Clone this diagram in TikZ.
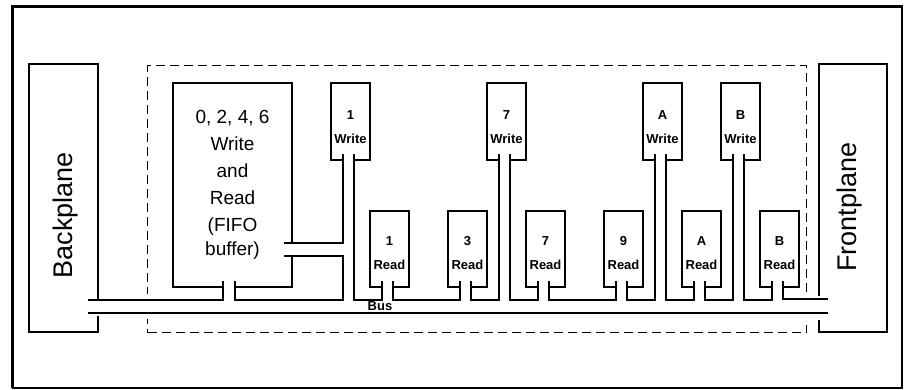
\documentclass[tikz,border=0pt]{standalone}
\usepackage{fontspec}
\setmainfont{Liberation Sans}
\usetikzlibrary{calc}

\begin{document}
\begin{tikzpicture}[x=1pt, y=-1pt,
    wire/.style={line width=1.3pt},
    modbox/.style={draw, line width=1.3pt, anchor=north west, inner sep=0pt, outer sep=0pt,
        minimum width=39pt, align=center, font=\bfseries\fontsize{13}{24}\selectfont},
    wrbox/.style={modbox, minimum height=77pt, text height=43.3pt},
    rdbox/.style={modbox, minimum height=76pt, text height=40.3pt},
    plane/.style={draw, line width=1.3pt, anchor=north west, inner sep=0pt, outer sep=0pt,
        minimum width=69pt, minimum height=268pt},
    planetext/.style={rotate=90, inner sep=0pt, font=\fontsize{27}{30}\selectfont},
    eraser/.style={fill=white}]
    \useasboundingbox (0,0) rectangle (904,389);
    % outer frame
    \draw[line width=1.2pt] (12.5,6) rectangle (902,388);
    \draw[line width=3pt] (12.5,388) -- (12.5,6) -- (902,6);

    % card outline and the two planes
    \node[draw, line width=1.3pt, dash pattern=on 9pt off 5pt, anchor=north west,
        inner sep=0pt, minimum width=659pt, minimum height=267pt] (card) at (147,65) {};
    \node[plane] (bp) at (29,64) {};
    \node[plane, minimum width=68pt] (fp) at (819,64) {};

    % FIFO buffer
    \node[draw, line width=1.3pt, anchor=north west, inner sep=0pt, outer sep=0pt,
        minimum width=119pt, minimum height=204pt, align=center,
        font=\fontsize{19}{27}\selectfont] (fifo) at (173,83)
        {0, 2, 4, 6\\Write\\and\\Read\\(FIFO\\[-3pt]buffer)};

    % write and read modules
    \node[wrbox] (w1) at (331,83) {1\\Write};
    \node[wrbox] (w7) at (487,83) {7\\Write};
    \node[wrbox] (wa) at (643,83) {A\\Write};
    \node[wrbox] (wb) at (721,83) {B\\Write};
    \foreach \n/\x/\t in {r1/370/1, r3/448/3, r7/526/7, r9/604/9, ra/682/A, rb/760/B}
        \node[rdbox] (\n) at (\x,211) {\t\\Read};

    % openings for the stubs
    \foreach \n in {w1,w7,wa,wb,r1,r3,r7,r9,ra,rb} {
        \fill[eraser] ($(\n.south west)+(12.7,-1.6)$) rectangle ($(\n.south west)+(22.3,1.6)$);
        \coordinate (\n-l) at ($(\n.south west)+(12,-6)$);
        \coordinate (\n-r) at ($(\n.south west)+(23,-6)$);
    }
    \fill[eraser] ($(fifo.south west)+(50.7,-1.6)$) rectangle ($(fifo.south west)+(61.3,1.6)$);
    \fill[eraser] ($(fifo.north east)+(-1.6,160.7)$) rectangle ($(fifo.north east)+(1.6,172.3)$);
    \coordinate (f-l) at ($(fifo.south west)+(50,-6)$);
    \coordinate (f-r) at ($(fifo.south west)+(62,-6)$);
    \coordinate (f-a) at ($(fifo.north east)+(-8,160)$);
    \coordinate (f-b) at ($(fifo.north east)+(-8,173)$);

    % gaps where the bus passes
    \fill[eraser] (96,299.5) rectangle (100,315.5);
    \fill[eraser] (817,296) rectangle (821,320);
    \fill[eraser] (145,294) rectangle (149,319);
    \fill[eraser] (804,294) rectangle (808,320);

    % bus
    \coordinate (bus-w) at (88,300);
    \coordinate (bus-e) at (828,299);
    \coordinate (bus-lw) at (88,313);
    \coordinate (bus-le) at (828,313);
    \draw[wire] (bus-lw) -- (bus-le);
    \draw[wire] (bus-w) -| (f-l);
    \draw[wire] (f-r) |- (w1-l |- bus-w) -- (w1-l |- f-b) -- (f-b);
    \draw[wire] (f-a) -| (w1-l);
    \foreach \a/\b in {w1/r1, r1/r3, r3/w7, w7/r7, r7/r9, r9/wa, wa/ra, ra/wb, wb/rb}
        \draw[wire] (\a-r) |- (\b-l |- bus-w) -- (\b-l);
    \draw[wire] (rb-r) |- (bus-e);

    % labels
    \node[planetext] (bp-txt) at ($(bp.center)+(2,17)$) {Backplane};
    \node[planetext] (fp-txt) at ($(fp.center)+(-3,9)$) {Frontplane};
    \node[inner sep=0pt, font=\bfseries\fontsize{13}{15}\selectfont] (bus-lbl) at (380,306) {Bus};
\end{tikzpicture}
\end{document}
